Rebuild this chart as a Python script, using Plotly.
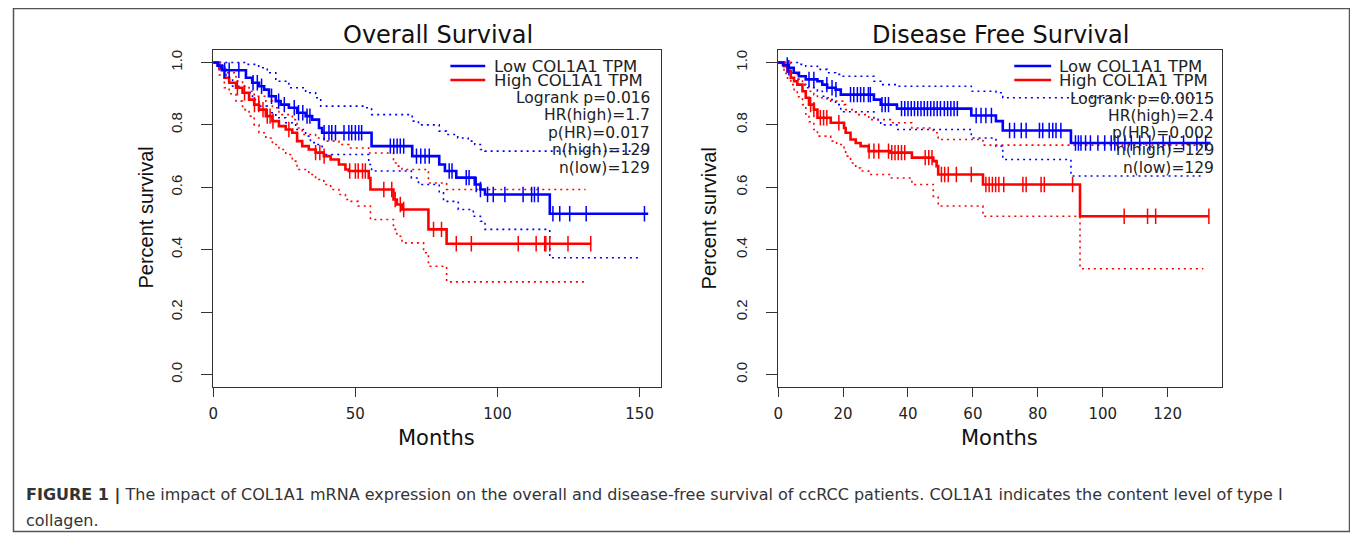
import numpy as np
import plotly.graph_objects as go

# ================= DATA =================
# ---- Overall Survival (left panel) ----
os_low_t = [0, 1.5, 3, 11.5, 13.7, 16.1, 17.9, 19.6, 22, 23.7, 26.6, 29.5, 32.5, 34.8, 37.2, 38.3,
            55.7, 70.0, 79.5, 81.5, 85.5, 92, 94, 95.6, 118.4, 153]
os_low_s = [1.0, 0.99, 0.975, 0.951, 0.935, 0.924, 0.913, 0.892, 0.876, 0.865, 0.855, 0.839, 0.828, 0.817,
            0.79, 0.775, 0.732, 0.700, 0.673, 0.652, 0.631, 0.609, 0.593, 0.577, 0.515, 0.515]
os_low_cens = [4, 5.6, 9, 14, 15.5, 17, 20.5, 23, 25, 28.5, 30, 31.5, 33, 34, 39, 40.7, 41.7, 43, 46, 47.7,
               48.7, 50, 51.2, 52.2, 62.3, 63.5, 64.7, 65.8, 67, 71.5, 73, 74.5, 76, 83, 84, 89, 90, 92.5,
               94, 96.5, 98.5, 102.6, 109, 112, 113, 114.3, 119.5, 121.9, 125.4, 131.2, 151.7]
os_low_up_t = [0, 11.5, 16, 19, 22, 26.6, 32.5, 36, 37.8, 53, 55.7, 70.0, 72.2, 79.5, 82, 86, 89.7, 92,
               94, 95.6, 153]
os_low_up_s = [1.0, 0.994, 0.983, 0.967, 0.94, 0.919, 0.903, 0.887, 0.86, 0.855, 0.833, 0.812, 0.80, 0.78,
               0.769, 0.758, 0.748, 0.737, 0.721, 0.716, 0.716]
os_low_lo_t = [0, 2.1, 4.5, 6.8, 10.3, 13.8, 16.1, 19, 22, 25.5, 29, 32.5, 34.2, 36, 38.3, 54.7, 55.7,
               69.7, 72.2, 79.5, 81, 86.2, 91.5, 94, 95.6, 118.4, 150.5]
os_low_lo_s = [1.0, 0.978, 0.951, 0.924, 0.903, 0.881, 0.86, 0.839, 0.823, 0.807, 0.785, 0.764, 0.743,
               0.737, 0.705, 0.673, 0.652, 0.63, 0.609, 0.582, 0.555, 0.529, 0.507, 0.491, 0.465, 0.374, 0.374]

os_high_t = [0, 2.1, 3.9, 5.6, 8, 10.3, 12.6, 14.4, 16.1, 18.5, 20.8, 23.1, 25.5, 27.8, 29.5, 31.3, 33.6,
             36, 38.9, 41.3, 44.2, 46.5, 47.7, 54.7, 55.3, 63.4, 64.6, 66.4, 75.7, 82.1, 133]
os_high_s = [1.0, 0.983, 0.951, 0.935, 0.919, 0.903, 0.881, 0.865, 0.849, 0.828, 0.812, 0.796, 0.785,
             0.775, 0.748, 0.732, 0.721, 0.711, 0.70, 0.689, 0.673, 0.657, 0.652, 0.63, 0.593, 0.561,
             0.545, 0.529, 0.465, 0.419, 0.419]
os_high_cens = [8.5, 11, 14.5, 16, 17.5, 19, 20, 21, 26.6, 36, 37.5, 39, 48, 50, 51, 52.5, 53.5, 60, 62.8,
                64, 65.8, 67, 77.5, 80.3, 85.5, 90.8, 107.3, 113.6, 116.6, 117, 118.4, 124.8, 132.8]
os_high_up_t = [0, 2.1, 3.9, 8, 10.3, 12.6, 14.4, 18.5, 20.8, 23.1, 27.8, 29.5, 31.3, 36, 38.9, 44.2,
                47.7, 54.7, 63.4, 64.6, 66.4, 75.7, 82.1, 131]
os_high_up_s = [1.0, 0.99, 0.967, 0.94, 0.924, 0.908, 0.892, 0.876, 0.855, 0.833, 0.817, 0.79, 0.769,
                0.758, 0.748, 0.737, 0.726, 0.71, 0.678, 0.668, 0.657, 0.614, 0.593, 0.593]
os_high_lo_t = [0, 2.1, 3.9, 5.6, 8, 10.3, 12.6, 14.4, 16.1, 18.5, 20.8, 23.1, 25.5, 27.8, 29.5, 33.6,
                36, 38.9, 41.3, 44.2, 46.5, 47.7, 51, 55.3, 63.4, 64.6, 66.4, 74, 75.7, 82.1, 131]
os_high_lo_s = [1.0, 0.96, 0.919, 0.90, 0.876, 0.849, 0.828, 0.80, 0.775, 0.758, 0.737, 0.721, 0.705,
                0.684, 0.657, 0.641, 0.625, 0.609, 0.593, 0.577, 0.561, 0.555, 0.54, 0.497, 0.465, 0.443,
                0.422, 0.39, 0.347, 0.297, 0.297]

# ---- Disease Free Survival (right panel) ----
dfs_low_t = [0, 1.5, 3.3, 4.8, 6.4, 8.5, 12.1, 13.6, 15.1, 17.7, 19.3, 29.5, 31.6, 36.6, 59.5, 67.1,
             69.2, 90.2, 133.2]
dfs_low_s = [1.0, 0.992, 0.983, 0.967, 0.956, 0.946, 0.94, 0.929, 0.919, 0.913, 0.897, 0.881, 0.865,
             0.852, 0.83, 0.812, 0.782, 0.742, 0.742]
dfs_low_cens = [2.8, 3.3, 9.5, 11, 15, 16.6, 17.8, 22.3, 23.3, 24.4, 25.4, 26.4, 27.8, 28.4, 32, 33, 34,
                38, 39, 40, 41, 42, 43, 44, 45, 46, 47, 48, 49, 50, 51.2, 52.2, 53.2, 54.2, 55.2, 61,
                62.5, 64, 65.7, 71.3, 72.8, 74.9, 76.4, 80.5, 81.5, 83.5, 84.6, 85.6, 87.1, 91.6, 92.5,
                93.3, 94.7, 96.2, 98.5, 100.6, 102.6, 103.7, 104.7, 106.8, 108.8, 111.4, 114.5, 118.6,
                120.6, 124.9, 129, 131.7]
dfs_low_up_t = [0, 6.4, 8.5, 12.1, 15.1, 17.7, 19.3, 29.5, 31.6, 36.6, 59.5, 67.1, 69.2, 133.2]
dfs_low_up_s = [1.0, 0.994, 0.988, 0.978, 0.967, 0.962, 0.956, 0.94, 0.929, 0.924, 0.908, 0.903, 0.887,
                0.887]
dfs_low_lo_t = [0, 1.5, 3.3, 4.8, 6.4, 8.5, 12.1, 13.6, 15.1, 17.7, 19.3, 29.5, 31.6, 36.6, 59.5, 67.1,
                69.2, 90.2, 131]
dfs_low_lo_s = [1.0, 0.99, 0.972, 0.946, 0.929, 0.919, 0.908, 0.892, 0.881, 0.865, 0.842, 0.817, 0.80,
                0.785, 0.758, 0.732, 0.689, 0.636, 0.636]

dfs_high_t = [0, 1.8, 2.9, 3.9, 4.9, 5.9, 7.5, 8.5, 9.5, 11, 12.1, 16.2, 20.3, 20.8, 22.3, 23.9, 25.4,
              27.9, 34.6, 41.2, 47.8, 48.8, 49.3, 63.1, 93, 132.7]
dfs_high_s = [1.0, 0.988, 0.972, 0.951, 0.94, 0.929, 0.908, 0.887, 0.865, 0.849, 0.823, 0.807, 0.79,
              0.775, 0.753, 0.742, 0.732, 0.716, 0.711, 0.695, 0.684, 0.668, 0.641, 0.609, 0.507, 0.507]
dfs_high_cens = [10, 11, 13, 14, 15, 18.7, 28, 29.5, 31, 34, 35, 36, 37, 38, 39, 45.3, 46.4, 47.4, 50.3,
                 51.3, 52.4, 54.9, 59.5, 64, 65, 66, 67, 68, 69.5, 75.4, 76.4, 81, 82, 90.7, 106.6,
                 113.8, 116.3, 132.7]
dfs_high_up_t = [0, 3.9, 5.9, 7.5, 9.5, 11, 12.1, 16.2, 20.3, 20.8, 23.9, 27.9, 34.6, 41.2, 47.8, 49.3,
                 63.1, 133]
dfs_high_up_s = [1.0, 0.967, 0.946, 0.929, 0.908, 0.897, 0.887, 0.876, 0.865, 0.849, 0.833, 0.817, 0.807,
                 0.79, 0.775, 0.753, 0.735, 0.735]
dfs_high_lo_t = [0, 1.8, 2.9, 3.9, 4.9, 5.9, 7.5, 8.5, 9.5, 11, 12.1, 16.2, 18, 20.3, 20.8, 22.3, 23.9,
                 25.4, 27.9, 34.6, 41.2, 47.8, 49.3, 63.1, 93, 131]
dfs_high_lo_s = [1.0, 0.965, 0.945, 0.929, 0.908, 0.89, 0.865, 0.835, 0.81, 0.785, 0.764, 0.748, 0.737,
                 0.721, 0.70, 0.678, 0.662, 0.652, 0.641, 0.63, 0.609, 0.571, 0.54, 0.507, 0.339, 0.339]

# ---- Text ----
panel_titles = ["Overall Survival", "Disease Free Survival"]
legend_labels = ["Low COL1A1 TPM", "High COL1A1 TPM"]
os_stats = ["Logrank p=0.016", "HR(high)=1.7", "p(HR)=0.017", "n(high)=129", "n(low)=129"]
dfs_stats = ["Logrank p=0.0015", "HR(high)=2.4", "p(HR)=0.002", "n(high)=129", "n(low)=129"]
os_xticks = [0, 50, 100, 150]
dfs_xticks = [0, 20, 40, 60, 80, 100, 120]
y_ticks = [0.0, 0.2, 0.4, 0.6, 0.8, 1.0]
y_ticktext = ["0.0", "0.2", "0.4", "0.6", "0.8", "1.0"]
caption_bold = "FIGURE 1 |"
caption_1 = (" The impact of COL1A1 mRNA expression on the overall and disease-free survival of "
             "ccRCC patients. COL1A1 indicates the content level of type I")
caption_2 = "collagen."

# ================= FIGURE =================
# The page body has an 8px margin; the figure is sized so that it fills the 1358x540 window.
OFF = 8
W, H = 1358 - OFF, 540 - OFF
BLUE, RED = "#0000FF", "#FF0000"
AXC = "#333333"
SANS_W = "DejaVu Sans"
SANS = "Liberation Sans, Arial"


def fx(p):
    """window pixel x -> paper fraction"""
    return (p - OFF) / W


def fy(p):
    """window pixel y (from top) -> paper fraction"""
    return 1 - (p - OFF) / H


fig = go.Figure()


def add_step(t, s, color, xa, ya, width, dash=None):
    fig.add_trace(go.Scatter(x=t, y=s, mode="lines", xaxis=xa, yaxis=ya, showlegend=False,
                             hoverinfo="skip",
                             line=dict(color=color, width=width, shape="hv", dash=dash)))


def add_censor(t_steps, s_steps, tc, color, xa, ya):
    idx = np.searchsorted(np.asarray(t_steps), np.asarray(tc), side="right") - 1
    ys = np.asarray(s_steps)[idx]
    fig.add_trace(go.Scatter(x=tc, y=ys, mode="markers", xaxis=xa, yaxis=ya, showlegend=False,
                             hoverinfo="skip",
                             marker=dict(symbol="line-ns", size=11, color=color,
                                         line=dict(color=color, width=1.5))))


DOT = "2px,4px"
for xa, ya, groups in [
    ("x", "y", [(os_low_t, os_low_s, os_low_cens, os_low_up_t, os_low_up_s, os_low_lo_t, os_low_lo_s, BLUE),
                (os_high_t, os_high_s, os_high_cens, os_high_up_t, os_high_up_s, os_high_lo_t, os_high_lo_s, RED)]),
    ("x2", "y2", [(dfs_low_t, dfs_low_s, dfs_low_cens, dfs_low_up_t, dfs_low_up_s, dfs_low_lo_t, dfs_low_lo_s, BLUE),
                  (dfs_high_t, dfs_high_s, dfs_high_cens, dfs_high_up_t, dfs_high_up_s, dfs_high_lo_t, dfs_high_lo_s, RED)]),
]:
    for t, s, c, ut, us, lt, ls, col in groups:
        add_step(ut, us, col, xa, ya, 1.6, DOT)
        add_step(lt, ls, col, xa, ya, 1.6, DOT)
    for t, s, c, ut, us, lt, ls, col in groups[::-1]:
        add_step(t, s, col, xa, ya, 2.6)
        add_censor(t, s, c, col, xa, ya)

# plot boxes (window pixels)
L1, R1, L2, R2, TOP, BOT = 209, 658, 776, 1221, 50, 387

axis_common = dict(showgrid=False, zeroline=False, showline=True, mirror=True, linecolor=AXC,
                   linewidth=1.3, ticks="outside", tickcolor=AXC, tickwidth=1.2)
xfont = dict(family=SANS_W, size=15, color="#222")
yfont = dict(family=SANS, size=15, color="#222")

fig.update_layout(
    width=W, height=H, margin=dict(l=0, r=0, t=0, b=0),
    paper_bgcolor="white", plot_bgcolor="white", showlegend=False,
    xaxis=dict(domain=[fx(L1), fx(R1)], range=[0, (R1 - L1) / 2.853], tickvals=os_xticks,
               ticklen=9, tickfont=xfont, anchor="y", ticklabelstandoff=4, **axis_common),
    yaxis=dict(domain=[fy(BOT), fy(TOP)], range=[-0.04, 1.04], tickvals=y_ticks, ticktext=y_ticktext,
               ticklen=11, tickangle=-90, tickfont=yfont, anchor="x", ticklabelstandoff=13, **axis_common),
    xaxis2=dict(domain=[fx(L2), fx(R2)], range=[0, (R2 - L2) / 3.258], tickvals=dfs_xticks,
                ticklen=9, tickfont=xfont, anchor="y2", ticklabelstandoff=4, **axis_common),
    yaxis2=dict(domain=[fy(BOT), fy(TOP)], range=[-0.04, 1.04], tickvals=y_ticks, ticktext=y_ticktext,
                ticklen=11, tickangle=-90, tickfont=yfont, anchor="x2", ticklabelstandoff=13, **axis_common),
)

ann = []
shapes = []
# outer frame
shapes.append(dict(type="rect", xref="paper", yref="paper", x0=fx(8.5), x1=fx(1349.5), y0=fy(531.5),
                   y1=fy(8.5), line=dict(color="#555", width=1.5)))

panels = [
    dict(L=L1, R=R1, title=panel_titles[0], stats=os_stats, leg_x0=447, leg_x1=482, txt_x=491, st_x=647,
         st_y=[98, 115, 133, 150, 168], ylab_x=141),
    dict(L=L2, R=R2, title=panel_titles[1], stats=dfs_stats, leg_x0=1013, leg_x1=1050, txt_x=1058,
         st_x=1213, st_y=[99, 116, 133, 150, 168], ylab_x=707),
]
for p in panels:
    cx = (p["L"] + p["R"]) / 2
    ann.append(dict(text=p["title"], x=fx(cx + 1), y=fy(35), xref="paper", yref="paper", showarrow=False,
                    xanchor="center", yanchor="middle", font=dict(family=SANS_W, size=24, color="#111")))
    ann.append(dict(text="Months", x=fx(cx), y=fy(438), xref="paper", yref="paper", showarrow=False,
                    xanchor="center", yanchor="middle", font=dict(family=SANS_W, size=21, color="#111")))
    ann.append(dict(text="Percent survival", x=fx(p["ylab_x"]), y=fy(218), xref="paper", yref="paper",
                    showarrow=False, textangle=-90, xanchor="center", yanchor="middle",
                    font=dict(family=SANS, size=20, color="#111")))
    for lab, col, yy in zip(legend_labels, [BLUE, RED], [66, 80]):
        shapes.append(dict(type="line", xref="paper", yref="paper", x0=fx(p["leg_x0"]), x1=fx(p["leg_x1"]),
                           y0=fy(yy), y1=fy(yy), line=dict(color=col, width=2.6)))
        ann.append(dict(text=lab, x=fx(p["txt_x"] - 2), y=fy(yy), xref="paper", yref="paper",
                        showarrow=False, xanchor="left", yanchor="middle",
                        font=dict(family=SANS_W, size=16.5, color="#222")))
    for st, yy in zip(p["stats"], p["st_y"]):
        ann.append(dict(text=st, x=fx(p["st_x"] + 2), y=fy(yy), xref="paper", yref="paper",
                        showarrow=False, xanchor="right", yanchor="middle",
                        font=dict(family=SANS_W, size=15.5, color="#222")))

ann.append(dict(text="<b>" + caption_bold + "</b>" + caption_1, x=fx(19), y=fy(495), xref="paper",
                yref="paper", showarrow=False, xanchor="left", yanchor="middle", align="left",
                font=dict(family=SANS_W, size=16, color="#333")))
ann.append(dict(text=caption_2, x=fx(19), y=fy(520), xref="paper", yref="paper", showarrow=False,
                xanchor="left", yanchor="middle", align="left",
                font=dict(family=SANS_W, size=16, color="#333")))

fig.update_layout(annotations=ann, shapes=shapes)
fig.write_html("out.html")
